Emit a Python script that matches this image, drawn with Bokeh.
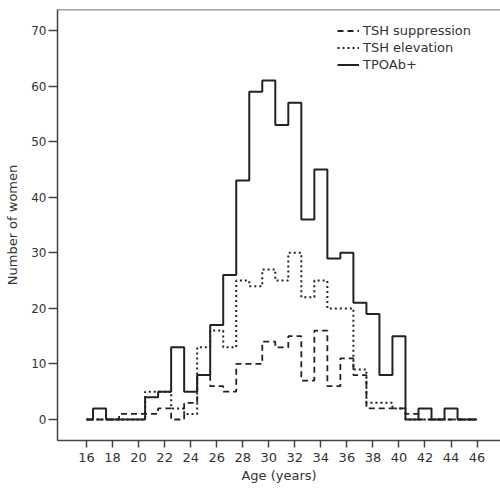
from bokeh.plotting import figure
from bokeh.models import Span, Legend, LegendItem, FixedTicker, Range1d
from bokeh.embed import file_html
from bokeh.resources import INLINE

# ---- data ----
ages = list(range(16, 47))
tpoab = [0, 2, 0, 0, 0, 4, 5, 13, 5, 8, 17, 26, 43, 59, 61, 53, 57, 36, 45, 29,
         30, 21, 19, 8, 15, 0, 2, 0, 2, 0, 0]
tsh_elevation = [0, 0, 0, 0, 0, 5, 5, 2, 1, 13, 16, 13, 25, 24, 27, 25, 30, 22, 25, 20,
                 20, 9, 3, 3, 2, 0, 0, 0, 0, 0, 0]
tsh_suppression = [0, 0, 0, 1, 1, 1, 2, 0, 3, 8, 6, 5, 10, 10, 14, 13, 15, 7, 16, 6,
                   11, 8, 2, 2, 2, 1, 0, 0, 0, 0, 0]
x_ticks = list(range(16, 47, 2))
y_ticks = list(range(0, 71, 10))

FONT = "DejaVu Sans"
INK = "#222222"
AX = "#444444"
TXT = "#333333"

p = figure(width=500, height=493, output_backend="svg", toolbar_location=None,
           x_range=Range1d(13.77, 47.8), y_range=Range1d(-3.78, 73.8),
           min_border_left=57, min_border_right=0, min_border_top=9, min_border_bottom=53)
p.outline_line_color = None
p.grid.visible = False
p.background_fill_color = "white"
p.border_fill_color = "white"

r_supp = p.step(ages, tsh_suppression, mode="center", line_dash="6 4",
                line_width=1.8, line_color=INK)
r_elev = p.step(ages, tsh_elevation, mode="center", line_dash="2 3",
                line_width=2, line_color=INK)
r_tpo = p.step(ages, tpoab, mode="center", line_width=2, line_color=INK)

# top border of the frame
p.add_layout(Span(location=73.8, dimension="width", line_color=AX, line_width=1.5))

for ax in (p.xaxis[0], p.yaxis[0]):
    ax.axis_line_color = AX
    ax.axis_line_width = 1.5
    ax.major_tick_line_color = AX
    ax.major_tick_line_width = 1.5
    ax.major_tick_in = 0
    ax.minor_tick_out = 0
    ax.minor_tick_in = 0
    ax.major_label_text_font = FONT
    ax.major_label_text_color = TXT
    ax.axis_label_text_font = FONT
    ax.axis_label_text_color = TXT
    ax.axis_label_text_font_style = "normal"
    ax.axis_label_text_font_size = "13px"

p.xaxis.ticker = FixedTicker(ticks=x_ticks)
p.yaxis.ticker = FixedTicker(ticks=y_ticks)
p.xaxis.axis_label = "Age (years)"
p.yaxis.axis_label = "Number of women"
p.xaxis.major_tick_out = 7
p.yaxis.major_tick_out = 9
p.xaxis.major_label_text_font_size = "13px"
p.yaxis.major_label_text_font_size = "12px"
p.xaxis.major_label_standoff = 5
p.yaxis.major_label_standoff = 2
p.xaxis.axis_label_standoff = 3
p.yaxis.axis_label_standoff = 8

legend = Legend(items=[
    LegendItem(label="TSH suppression", renderers=[r_supp]),
    LegendItem(label="TSH elevation", renderers=[r_elev]),
    LegendItem(label="TPOAb+", renderers=[r_tpo]),
], location=(280, 367))
legend.border_line_color = None
legend.background_fill_alpha = 0
legend.padding = 0
legend.margin = 0
legend.spacing = 0
legend.label_height = 17
legend.glyph_height = 17
legend.glyph_width = 22
legend.label_standoff = 4
legend.label_text_font = FONT
legend.label_text_font_size = "13px"
legend.label_text_color = TXT
p.add_layout(legend)

open("out.html", "w").write(file_html(p, INLINE))
